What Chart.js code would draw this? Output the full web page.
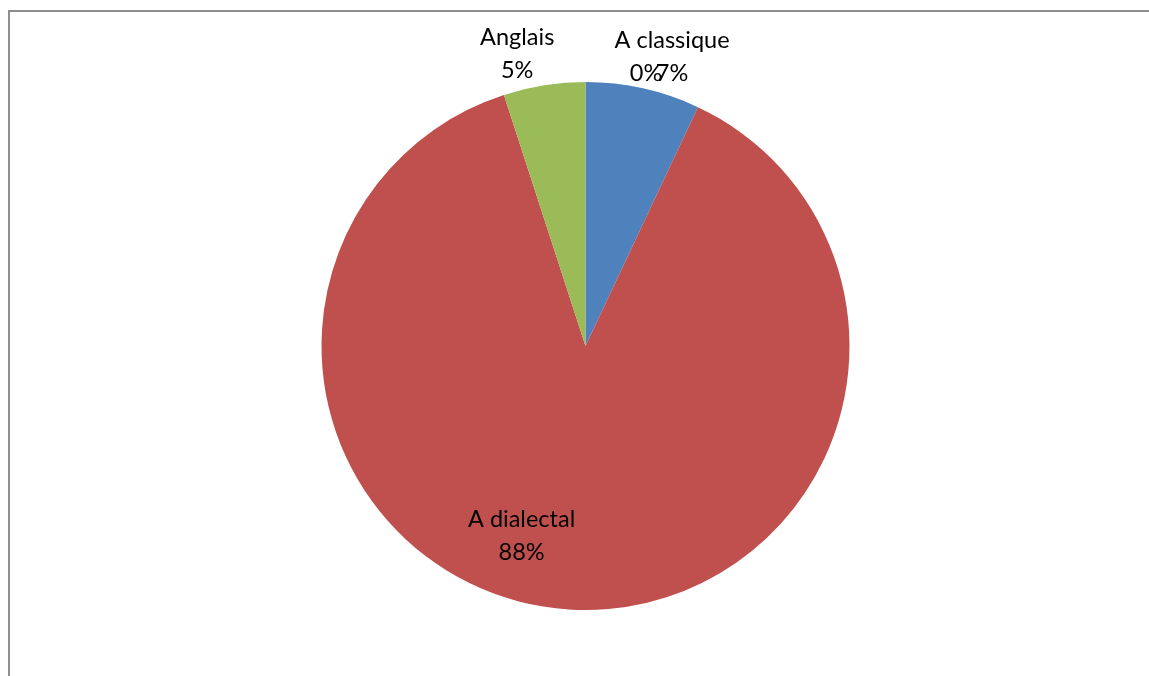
<!DOCTYPE html>
<html>
<head>
<meta charset="utf-8">
<script src="https://cdn.jsdelivr.net/npm/chart.js@4"></script>
<style>
    html, body { margin: 0; padding: 0; background: #fff; }
    #wrap { position: relative; width: 1149px; height: 676px; overflow: hidden; }
    #frame { position: absolute; left: 8px; top: 10px; width: 1160px; height: 700px;
             border-top: 2px solid #8e8e8e; border-left: 2px solid #8e8e8e; }
    #chart { position: absolute; left: 0; top: 0; }
</style>
</head>
<body>
<div id="wrap">
    <div id="frame"></div>
    <canvas id="chart" width="1149" height="676"></canvas>
</div>
<script>
// data
var categories = ['A classique', '', 'A dialectal', 'Anglais'];
var values = [7, 0, 88, 5];
var percentLabels = ['7%', '0%', '88%', '5%'];
var colors = ['#4F81BD', '#F79646', '#C0504D', '#9BBB59'];

// label placement per slice: where on the slice and how far to shift (layout only)
var labelPlacement = [
    { r: 1.0, dx: 29, bottom: true },
    { r: 1.0, dx: 3, bottom: true, ref: 0 },
    { r: 0.72, dx: -52, dy: 24 },
    { r: 1.0, dx: -27, bottom: true }
];

var FONT = '23.5px Lato';
var LINE = 33;

var sliceLabels = {
    id: 'sliceLabels',
    afterDatasetsDraw: function (chart) {
        var ctx = chart.ctx;
        var meta = chart.getDatasetMeta(0);
        ctx.save();
        ctx.font = FONT;
        ctx.fillStyle = '#000';
        ctx.textAlign = 'center';
        ctx.textBaseline = 'alphabetic';
        meta.data.forEach(function (arc, i) {
            var p = labelPlacement[i];
            // a zero slice borrows the position of its neighbour
            var src = p.ref !== undefined ? meta.data[p.ref] : arc;
            var mid = (src.startAngle + src.endAngle) / 2;
            var rad = src.outerRadius * p.r;
            var x = src.x + Math.cos(mid) * rad + p.dx;
            var y = src.y + Math.sin(mid) * rad;
            var lines = [];
            if (categories[i]) lines.push(categories[i]);
            lines.push(percentLabels[i]);
            var baseLast = p.bottom ? y - 7 : y + (p.dy || 0);
            for (var k = lines.length - 1; k >= 0; k--) {
                ctx.fillText(lines[k], x, baseLast - (lines.length - 1 - k) * LINE);
            }
        });
        ctx.restore();
    }
};

var ctx = document.getElementById('chart');
var myChart = new Chart(ctx, {
    type: 'pie',
    data: {
        labels: categories,
        datasets: [{
            data: values,
            backgroundColor: colors,
            borderWidth: 0
        }]
    },
    plugins: [sliceLabels],
    options: {
        responsive: false,
        animation: false,
        layout: {
            padding: { left: 321, right: 299, top: 82, bottom: 66 }
        },
        plugins: {
            legend: { display: false },
            tooltip: { enabled: false },
            title: { display: false }
        }
    }
});
</script>
</body>
</html>
